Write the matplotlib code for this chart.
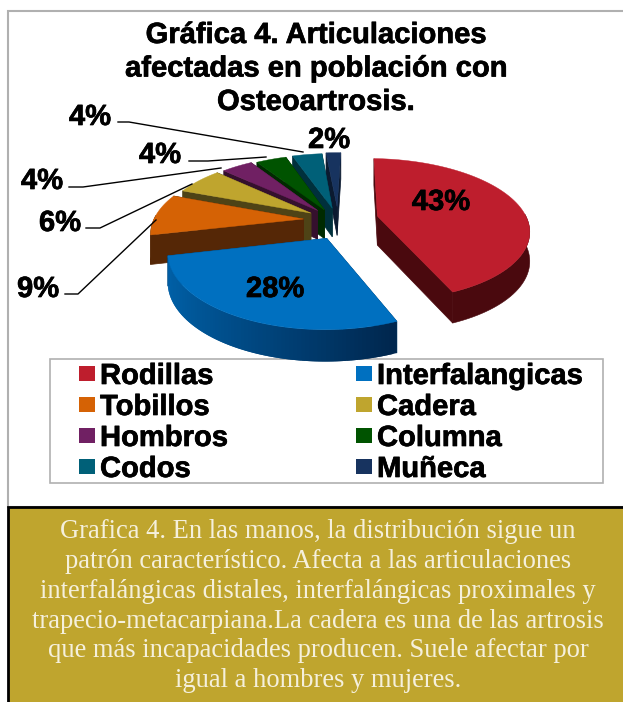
import numpy as np
import matplotlib
matplotlib.use("Agg")
import matplotlib.pyplot as plt
import matplotlib.patheffects as pe
from matplotlib.patches import Polygon, Rectangle

# chart data
categories = ["Rodillas", "Interfalangicas", "Tobillos", "Cadera",
              "Hombros", "Columna", "Codos", "Muñeca"]
values = [43, 28, 9, 6, 4, 4, 4, 2]
title_lines = ["Gráfica 4. Articulaciones", "afectadas en población con", "Osteoartrosis."]
caption_lines = ["Grafica 4. En las manos, la distribución sigue un",
                 "patrón característico. Afecta a las articulaciones",
                 "interfalángicas distales, interfalángicas proximales y",
                 "trapecio-metacarpiana.La cadera es una de las artrosis",
                 "que más incapacidades producen. Suele afectar por",
                 "igual a hombres y mujeres."]

# styles
top_colors = ["#BE1E2D", "#0070C0", "#D56205", "#BFA52E", "#702063", "#005300", "#006078", "#17335F"]
side_colors = ["#4A090E", "#003F70", "#552706", "#4E4316", "#35102D", "#002A00", "#00303C", "#0B1A30"]
explode = [0.29, 0.25, 0.21, 0.19, 0.18, 0.16, 0.17, 0.19]
explode_turn = [0, -15, 0, 0, 0, 0, 6, 6]  # degrees off the slice middle
label_pos = [(441, 202), (275, 289), (38, 289), (60, 223), (42, 181), (160, 155), (90, 117), (329, 140)]
leaders = {2: [(65, 294), (78, 294), (156, 220)],
           3: [(86, 228), (100, 228), (192, 184)],
           4: [(69, 187), (83, 187), (221, 168)],
           5: [(189, 161), (208, 161), (266, 157)],
           6: [(118, 122), (129, 122), (303, 152)]}
CX, CY = 335, 220
RX, RY = 150, 72
PERSP = 0.18
DEPTH = 29
START = np.radians(2)
heavy = [pe.withStroke(linewidth=0.5, foreground="black")]


def project(X, Y, drop=0.0):
    # ground plane to pixels, things nearer the viewer get bigger
    scale = 1 + PERSP * Y
    return CX + RX * X * scale, CY + RY * Y * scale + drop * (1 + 0.08 * Y)


def mix(color, other, t):
    a = np.array(matplotlib.colors.to_rgb(color))
    b = np.array(matplotlib.colors.to_rgb(other))
    return tuple(a * (1 - t) + b * t)


fig = plt.figure(figsize=(6.23, 7.02), dpi=100)
ax = fig.add_axes([0, 0, 1, 1])
ax.set_xlim(0, 623)
ax.set_ylim(702, 0)
ax.axis("off")
plt.rcParams["font.family"] = ["Liberation Sans", "DejaVu Sans"]

# chart frame and caption panel
ax.add_patch(Rectangle((7.5, 10.5), 640, 496, fc="white", ec="#B0B0B0", lw=1.5, zorder=0))
ax.add_patch(Rectangle((8, 507), 620, 200, fc="#BFA52E", ec="black", lw=2, zorder=1))

# legend sits under the pie
ax.add_patch(Rectangle((49.5, 358.5), 553.5, 124, fc="white", ec="#B0B0B0", lw=1.2, zorder=1.5))
for i, name in enumerate(categories):
    col, row = i % 2, i // 2
    x = 79 + col * 277
    y = 366 + row * 31
    ax.add_patch(Rectangle((x, y), 15.5, 15, fc=top_colors[i], ec="none", zorder=1.6))
    ax.text(x + 21, y + 10, name, ha="left", va="center", fontsize=21, fontweight="bold",
            zorder=1.6, path_effects=heavy)

for i, line in enumerate(title_lines):
    ax.text(316, 35 + i * 33.5, line, ha="center", va="center", fontsize=21, fontweight="bold",
            zorder=5, path_effects=heavy)

# slices from the values, back ones first
fractions = np.array(values) / sum(values)
ends = START + np.cumsum(fractions) * 2 * np.pi
starts = ends - fractions * 2 * np.pi
order = [7, 6, 5, 4, 3, 2, 0, 1]
z = 2
for i in order:
    a0, a1 = starts[i], ends[i]
    mid = (a0 + a1) / 2 + np.radians(explode_turn[i])
    ox, oy = explode[i] * np.sin(mid), -explode[i] * np.cos(mid)
    ang = np.linspace(a0, a1, 80)
    gx = ox + np.sin(ang)
    gy = oy - np.cos(ang)

    # the two cut walls
    for k in (0, -1):
        wall = [project(ox, oy), project(gx[k], gy[k]), project(gx[k], gy[k], DEPTH), project(ox, oy, DEPTH)]
        ax.add_patch(Polygon(wall, fc=side_colors[i], ec=side_colors[i], lw=0.5, zorder=z))

    # outer wall, only the part facing us
    front = np.where(np.cos(ang) < 0.05)[0]
    if len(front) > 1:
        if i == 1:
            # blue one is shaded left to right, strips overlap so no seams show
            for j in front[:-1]:
                t = (np.sin(ang[j]) + 1) / 1.42
                shade = mix("#0062AA", "#00264D", min(t, 1))
                n = min(j + 2, front[-1])
                strip = [project(gx[j], gy[j]), project(gx[n], gy[n]),
                         project(gx[n], gy[n], DEPTH), project(gx[j], gy[j], DEPTH)]
                ax.add_patch(Polygon(strip, fc=shade, ec="none", zorder=z + 0.1 - j * 1e-4))
        else:
            outer = [project(gx[j], gy[j]) for j in front] + [project(gx[j], gy[j], DEPTH) for j in front[::-1]]
            ax.add_patch(Polygon(outer, fc=side_colors[i], ec=side_colors[i], lw=0.4, zorder=z + 0.1))

    top = [project(ox, oy)] + [project(x, y) for x, y in zip(gx, gy)]
    ax.add_patch(Polygon(top, fc=top_colors[i], ec=top_colors[i], lw=0.3, zorder=z + 0.2))
    z += 1

# percentage labels and leader lines
for i, v in enumerate(values):
    ax.text(label_pos[i][0], label_pos[i][1], f"{v}%", ha="center", va="center",
            fontsize=21, fontweight="bold", zorder=20, path_effects=heavy)
for pts in leaders.values():
    ax.plot([p[0] for p in pts], [p[1] for p in pts], color="black", lw=1, zorder=15)

# caption text
for i, line in enumerate(caption_lines):
    ax.text(318, 532 + i * 29.7, line, ha="center", va="center", fontsize=19.1, color="#F5F0DC",
            family=["Liberation Serif", "DejaVu Serif"], zorder=5)

fig.savefig("out.png", dpi=100)
